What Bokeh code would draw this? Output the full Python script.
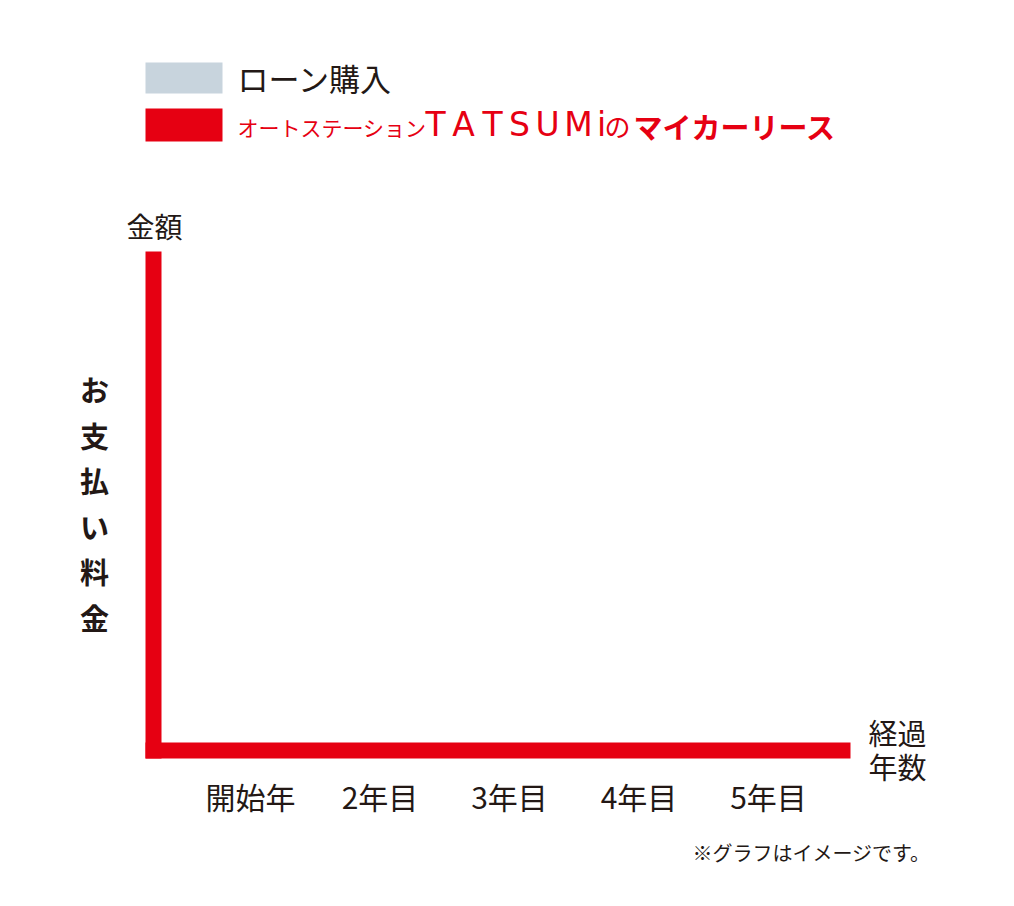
from bokeh.plotting import figure
from bokeh.models import Range1d, FixedTicker, Label, BoxAnnotation
from bokeh.embed import file_html
from bokeh.resources import INLINE

# ---------------- data ----------------
categories = ["開始年", "2年目", "3年目", "4年目", "5年目"]
series_names = ["ローン購入", "オートステーションTATSUMiのマイカーリース"]
series_colors = ["#c8d4dd", "#e60012"]
# The reference graph shows no bars (image-only chart) -> empty series
loan_values = []
lease_values = []
y_axis_title = "お支払い料金"
y_axis_top = "金額"
x_axis_title = ["経過", "年数"]
note_text = "※グラフはイメージです。"
lease_label_parts = ["オートステーション", "TATSUMi", "の", "マイカーリース"]

# ---------------- layout constants ----------------
W, H = 1014, 906
AX_L, AX_R, AX_T, AX_B = 153, 842, 259, 750   # axis extents (px)
DARK = "#231815"
RED = "#e60012"
FONT = "Noto Sans CJK JP"
PX_PER = 129.5
CENTER0 = 250

tick_pos = list(range(1, len(categories) + 1))


def dx(px):
    return 1 + (px - CENTER0) / PX_PER


def dy(py):
    return (AX_B - py) / (AX_B - AX_T)


p = figure(width=W, height=H, output_backend="svg", toolbar_location=None,
           tools="", x_range=Range1d(dx(0), dx(W)), y_range=Range1d(dy(H), dy(0)),
           min_border_left=0, min_border_right=0,
           min_border_top=0, min_border_bottom=0)
p.background_fill_color = "white"
p.border_fill_color = "white"
p.outline_line_color = None
p.xgrid.grid_line_color = None
p.ygrid.grid_line_color = None

# axes: thick red L, fixed inside the canvas
for ax in (p.xaxis[0], p.yaxis[0]):
    ax.axis_line_color = RED
    ax.axis_line_width = 16
    ax.axis_line_cap = "square"
    ax.major_tick_line_color = None
    ax.minor_tick_line_color = None

p.xaxis.fixed_location = 0
p.xaxis.bounds = (dx(AX_L), dx(AX_R))
p.xaxis.ticker = FixedTicker(ticks=tick_pos)
p.xaxis.major_label_overrides = {t: c for t, c in zip(tick_pos, categories)}
p.xaxis.major_label_text_font = FONT
p.xaxis.major_label_text_font_size = "30px"
p.xaxis.major_label_text_color = DARK
p.xaxis.major_label_standoff = 17

p.yaxis.fixed_location = dx(AX_L)
p.yaxis.bounds = (0, 1)
p.yaxis.ticker = FixedTicker(ticks=[])
p.yaxis.major_label_text_color = None

# series bars (none shown in the reference)
p.vbar(x=tick_pos[:len(loan_values)], top=loan_values, width=0.35,
       fill_color=series_colors[0], line_color=None)
p.vbar(x=tick_pos[:len(lease_values)], top=lease_values, width=0.35,
       fill_color=series_colors[1], line_color=None)

# legend swatches
for (top_px, bot_px), col in zip([(62, 93), (108, 141)], series_colors):
    p.add_layout(BoxAnnotation(left=dx(145), right=dx(222), top=dy(top_px),
                               bottom=dy(bot_px), fill_color=col,
                               fill_alpha=1, line_color=None))

# legend labels
p.add_layout(Label(x=dx(237), y=dy(77), text=series_names[0],
                   text_font=FONT, text_font_size="31px", text_color=DARK,
                   text_align="left", text_baseline="middle"))
p.add_layout(Label(x=dx(237), y=dy(126), text=lease_label_parts[0],
                   text_font=FONT, text_font_size="21px", text_color=RED,
                   text_align="left", text_baseline="middle"))
letter_centers = [435, 463, 492, 519, 547, 578, 601]
for ch, cx in zip(lease_label_parts[1], letter_centers):
    p.add_layout(Label(x=dx(cx), y=dy(124), text=ch, text_font="DejaVu Sans",
                       text_font_size="33px", text_color=RED,
                       text_align="center", text_baseline="middle"))
p.add_layout(Label(x=dx(617), y=dy(125), text=lease_label_parts[2],
                   text_font=FONT, text_font_size="26px", text_color=RED,
                   text_align="center", text_baseline="middle"))
p.add_layout(Label(x=dx(633), y=dy(125), text=lease_label_parts[3],
                   text_font=FONT, text_font_size="29px", text_color=RED,
                   text_font_style="bold",
                   text_align="left", text_baseline="middle"))

# axis titles
p.add_layout(Label(x=dx(154), y=dy(225), text=y_axis_top, text_font=FONT,
                   text_font_size="28px", text_color=DARK,
                   text_align="center", text_baseline="middle"))
for i, ch in enumerate(y_axis_title):
    p.add_layout(Label(x=dx(94), y=dy(388.5 + 45.6 * i), text=ch,
                       text_font=FONT, text_font_size="29px",
                       text_font_style="bold", text_color=DARK,
                       text_align="center", text_baseline="middle"))
for i, t in enumerate(x_axis_title):
    p.add_layout(Label(x=dx(897), y=dy(731 + 34 * i), text=t, text_font=FONT,
                       text_font_size="29px", text_color=DARK,
                       text_align="center", text_baseline="middle"))

p.add_layout(Label(x=dx(930), y=dy(852), text=note_text, text_font=FONT,
                   text_font_size="20px", text_color=DARK,
                   text_align="right", text_baseline="middle"))

open("out.html", "w").write(file_html(p, INLINE))
